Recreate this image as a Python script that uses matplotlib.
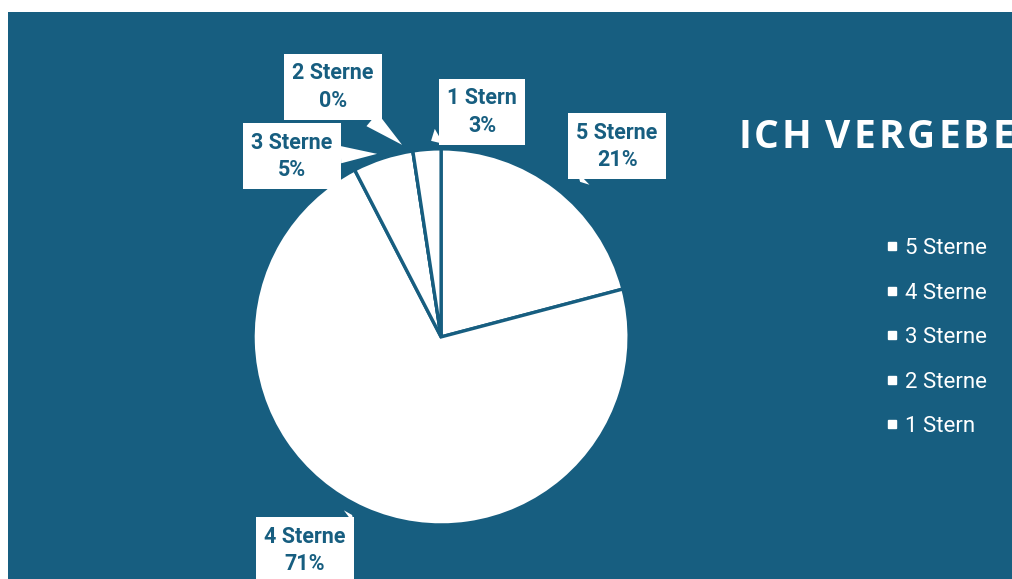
import matplotlib
matplotlib.use("Agg")
import matplotlib.pyplot as plt
from matplotlib.lines import Line2D
from matplotlib.patches import Rectangle

# Bewertungen
kategorien = ["5 Sterne", "4 Sterne", "3 Sterne", "2 Sterne", "1 Stern"]
anteile = [20.9, 71.5, 5.2, 0.0, 2.4]
prozent_labels = ["21%", "71%", "5%", "0%", "3%"]
titel = "ICH VERGEBE"

teal = "#175E80"
W, H = 1012, 579
cx, cy, r = 441, 337, 188  # pie centre / radius in px

fig = plt.figure(figsize=(W / 100 + 0.002, H / 100 + 0.002), dpi=100)
fig.patch.set_facecolor(teal)

# white border top / left
x0, ytop = 8, 12
fig.patches.append(Rectangle((0, 1 - ytop / H), 1, ytop / H, transform=fig.transFigure,
                             fc="white", ec="none", zorder=-1))
fig.patches.append(Rectangle((0, 0), x0 / W, 1, transform=fig.transFigure,
                             fc="white", ec="none", zorder=-1))

# axes covering the teal area, 1 data unit = r px
ax = fig.add_axes([x0 / W, 0, 1 - x0 / W, 1 - ytop / H])
wedges, _ = ax.pie(anteile, startangle=90, counterclock=False, radius=1,
                   colors=["white"] * len(anteile),
                   wedgeprops=dict(edgecolor=teal, linewidth=2.4))
ax.set_aspect("auto")
ax.set_xlim((x0 - cx) / r, (W - cx) / r)
ax.set_ylim(-(H - cy) / r, (cy - ytop) / r)

# label boxes (px centre) and callout tips (px)
box_pos = [(617, 146), (305, 550), (292, 156), (333, 87), (482, 112)]
tip_pos = [(580, 182), (352, 515), (377, 154), (402, 145), (431, 141)]

def px(p):
    return ((p[0] - cx) / r, (cy - p[1]) / r)

for name, pct, b, t in zip(kategorien, prozent_labels, box_pos, tip_pos):
    ax.annotate(name + "\n" + pct, xy=px(t), xytext=px(b),
                ha="center", va="center", color=teal, fontsize=15.5,
                fontweight="bold", family="Roboto", linespacing=1.3,
                bbox=dict(boxstyle="square,pad=0.38", fc="white", ec="none"),
                arrowprops=dict(arrowstyle="wedge,tail_width=0.8", fc="white",
                                ec="none", shrinkA=0, shrinkB=0),
                annotation_clip=False)

# title with letter spacing, drawn char by char (cut at the right edge)
fig.canvas.draw()
renderer = fig.canvas.get_renderer()
xpos = 738
for ch in titel:
    t = fig.text(xpos / W, 1 - 148 / H, ch, color="white", fontsize=28,
                 fontweight="bold", family="Open Sans", va="baseline",
                 ha="left")
    w = t.get_window_extent(renderer).width
    if ch == " ":
        w = 7
    xpos += w + 3.1

handles = [Line2D([], [], marker="s", color="white", linestyle="none",
                  markersize=6) for _ in kategorien]
leg = fig.legend(handles, kategorien, loc="upper left",
                 bbox_to_anchor=(866 / W, 1 - 218 / H), frameon=False,
                 labelcolor="white", labelspacing=1.06,
                 handlelength=0.52, handletextpad=0.33,
                 prop=dict(family="Roboto", size=16))

fig.savefig("out.png", dpi=100, facecolor=fig.get_facecolor())
